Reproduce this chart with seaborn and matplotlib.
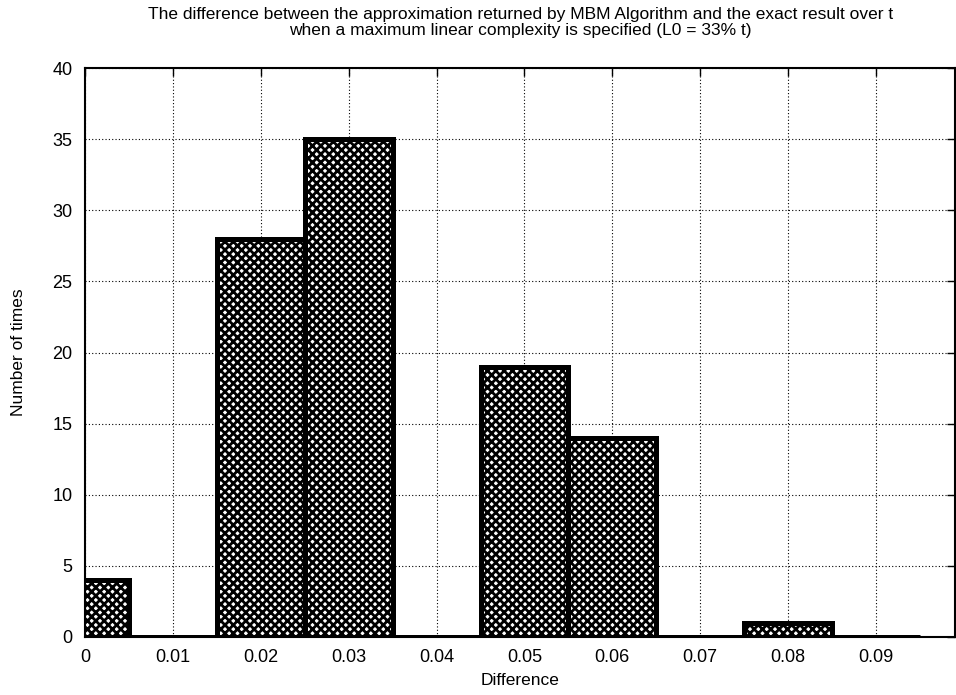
import matplotlib
matplotlib.use("Agg")
import matplotlib.pyplot as plt
import seaborn as sns
import numpy as np
import pandas as pd

centers = [0.00, 0.01, 0.02, 0.03, 0.04, 0.05, 0.06, 0.07, 0.08, 0.09]
counts = [4, 0, 28, 35, 0, 19, 14, 0, 1, 0]
xticks = [0, 0.01, 0.02, 0.03, 0.04, 0.05, 0.06, 0.07, 0.08, 0.09]
xtick_labels = ["0", "0.01", "0.02", "0.03", "0.04", "0.05", "0.06", "0.07", "0.08", "0.09"]
yticks = [0, 5, 10, 15, 20, 25, 30, 35, 40]

df = pd.DataFrame({"diff": centers, "n": counts})

sns.set_style("white")
plt.rcParams['font.family'] = ['Liberation Sans', 'DejaVu Sans']
plt.rcParams['hatch.linewidth'] = 2.0
plt.rcParams['text.color'] = 'black'
plt.rcParams['axes.labelcolor'] = 'black'

fig = plt.figure(figsize=(9.56, 6.95), dpi=100)
ax = fig.add_axes([0.089, 0.0835, 0.910, 0.8185])

sns.histplot(data=df, x="diff", weights="n", binwidth=0.01, binrange=(-0.005, 0.095),
             ax=ax, color="white", edgecolor="black", linewidth=3.6, alpha=1)
for p in ax.patches:
    p.set_hatch("xxxx")
    p.set_facecolor("white")
    p.set_edgecolor("black")
    p.set_clip_on(True)

ax.set_xlim(0, 0.099)
ax.set_ylim(0, 40)
ax.set_xticks(xticks)
ax.set_xticklabels(xtick_labels)
ax.set_yticks(yticks)
ax.grid(True, linestyle=(0, (1, 2)), color="black", linewidth=0.8)
ax.set_axisbelow(True)
ax.tick_params(direction="in", length=6, width=1, top=True, right=True,
               labelsize=13, pad=9, colors="black", labelcolor="black")
for s in ax.spines.values():
    s.set_linewidth(1.5)
    s.set_color("black")
    s.set_visible(True)

ax.set_xlabel("Difference", fontsize=12.5, labelpad=5, color="black")
ax.set_ylabel("Number of times", fontsize=12.5, labelpad=19, color="black")
ax.set_title("The difference between the approximation returned by MBM Algorithm and the exact result over t\n"
             "when a maximum linear complexity is specified (L0 = 33% t)",
             fontsize=12.5, pad=24, linespacing=1.1, color="black")

fig.savefig("out.png", dpi=100)
